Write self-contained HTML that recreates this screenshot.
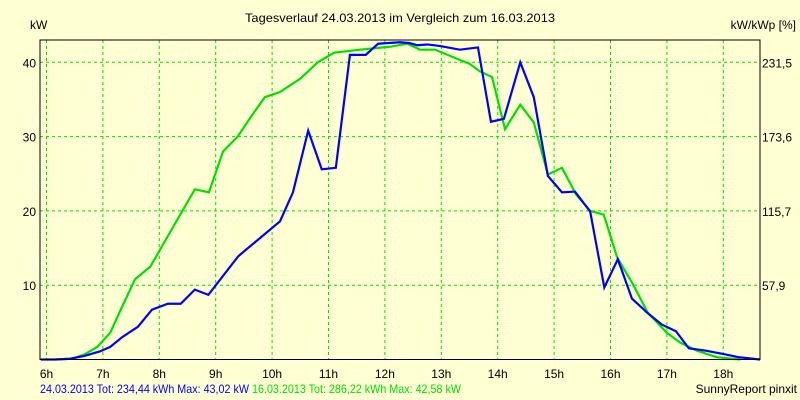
<!DOCTYPE html>
<html><head><meta charset="utf-8"><style>
body{margin:0;background:#ffffd4;}
svg{display:block;font-family:"Liberation Sans",sans-serif;font-size:12px;}
</style></head><body>
<svg id="chart" width="800" height="400" viewBox="0 0 800 400" xmlns="http://www.w3.org/2000/svg">
<rect x="0" y="0" width="800" height="400" fill="#ffffd4"/>
<text x="245" y="22" textLength="310" lengthAdjust="spacingAndGlyphs" fill="#000">Tagesverlauf 24.03.2013 im Vergleich zum 16.03.2013</text>
<text x="30" y="29" fill="#000">kW</text>
<text x="796" y="29" text-anchor="end" fill="#000">kW/kWp [%]</text>
<g id="grid"></g>
<g id="axes"></g>
<g id="series"></g>
<rect x="40" y="40" width="720" height="319.5" fill="none" stroke="#000" stroke-width="1"/>
<text x="40" y="393" textLength="209" lengthAdjust="spacingAndGlyphs" fill="#0000ff">24.03.2013 Tot: 234,44 kWh Max: 43,02 kW</text>
<text x="252" y="393" textLength="209" lengthAdjust="spacingAndGlyphs" fill="#00e000">16.03.2013 Tot: 286,22 kWh Max: 42,58 kW</text>
<text x="797" y="393" text-anchor="end" fill="#000">SunnyReport pinxit</text>
</svg>
<script>
const xTicks=[6,7,8,9,10,11,12,13,14,15,16,17,18];
const yTicks=[10,20,30,40];
const y2Labels=["57,9","115,7","173,6","231,5"];
const blueT=[5.9,6.15,6.42,6.68,6.95,7.13,7.34,7.62,7.87,8.15,8.38,8.63,8.87,9.4,10.14,10.37,10.64,10.88,11.13,11.38,11.66,11.88,12.27,12.43,12.57,12.75,12.97,13.33,13.65,13.88,14.11,14.4,14.64,14.89,15.14,15.37,15.64,15.89,16.13,16.38,16.65,16.91,17.16,17.39,17.68,18.03,18.28,18.65,18.78];
const blueV=[0,0,0.1,0.5,1.1,1.7,3,4.4,6.7,7.5,7.5,9.4,8.7,13.9,18.6,22.5,30.8,25.6,25.8,41,41,42.5,42.7,42.6,42.3,42.4,42.2,41.7,42,32,32.4,40,35.3,24.7,22.5,22.6,19.9,9.7,13.5,8.2,6.3,4.7,3.8,1.5,1.2,0.7,0.3,0,0];
const greenT=[6.15,6.45,6.68,6.9,7.13,7.34,7.57,7.84,8.63,8.88,9.13,9.39,9.61,9.87,10.14,10.5,10.81,11.1,11.56,12.1,12.4,12.62,12.89,13.24,13.5,13.68,13.9,14.13,14.4,14.64,14.89,15.14,15.39,15.64,15.88,16.12,16.4,16.66,17.0,17.23,17.53,17.89,18.3];
const greenV=[0,0.1,0.7,1.7,3.6,7.1,10.8,12.5,22.9,22.5,28,30,32.5,35.3,36,37.8,40,41.3,41.7,42.1,42.5,41.7,41.7,40.6,39.8,38.8,38,31,34.3,31.9,24.9,25.8,22.2,20,19.5,13.7,10.1,6.3,3.6,2.3,1.2,0.3,0];
const NS="http://www.w3.org/2000/svg";
function xs(t){return 46.5+(t-6)*56.4;}
function ys(v){return 359.5-v*7.43;}
function clampX(t){return Math.max(40,Math.min(760,xs(t)));}
const grid=document.getElementById('grid'),axes=document.getElementById('axes'),ser=document.getElementById('series');
xTicks.forEach(t=>{
 const l=document.createElementNS(NS,'line');
 
 
 l.setAttribute('x1',xs(t));l.setAttribute('x2',xs(t));l.setAttribute('y1',40);l.setAttribute('y2',359);
 l.setAttribute('stroke','#00e000');l.setAttribute('stroke-dasharray','3,3');
 grid.appendChild(l);
 const tx=document.createElementNS(NS,'text');
 
 
 tx.setAttribute('x',xs(t));tx.setAttribute('y',378);tx.setAttribute('text-anchor','middle');
 tx.textContent=t+'h';axes.appendChild(tx);
});
yTicks.forEach((v,i)=>{
 const l=document.createElementNS(NS,'line');
 
 
 l.setAttribute('x1',40);l.setAttribute('x2',760);l.setAttribute('y1',ys(v));l.setAttribute('y2',ys(v));
 l.setAttribute('stroke','#00e000');l.setAttribute('stroke-dasharray','3,3');
 grid.appendChild(l);
 const tx=document.createElementNS(NS,'text');
 
 
 tx.setAttribute('x',36);tx.setAttribute('y',ys(v)+5);tx.setAttribute('text-anchor','end');
 tx.textContent=v;axes.appendChild(tx);
 const t2=document.createElementNS(NS,'text');
 
 
 t2.setAttribute('x',762);t2.setAttribute('y',ys(v)+5);
 t2.textContent=y2Labels[i];axes.appendChild(t2);
});
function line(T,V,color,name){
 const p=document.createElementNS(NS,'polyline');
 
 
 p.setAttribute('points',T.map((t,i)=>clampX(t)+','+ys(V[i])).join(' '));
 p.setAttribute('fill','none');p.setAttribute('stroke',color);p.setAttribute('stroke-width','2.2');
 ser.appendChild(p);
}
line(greenT,greenV,'#00e000','series-16-03-2013');
line(blueT,blueV,'#0000ff','series-24-03-2013');
</script>
</body></html>
